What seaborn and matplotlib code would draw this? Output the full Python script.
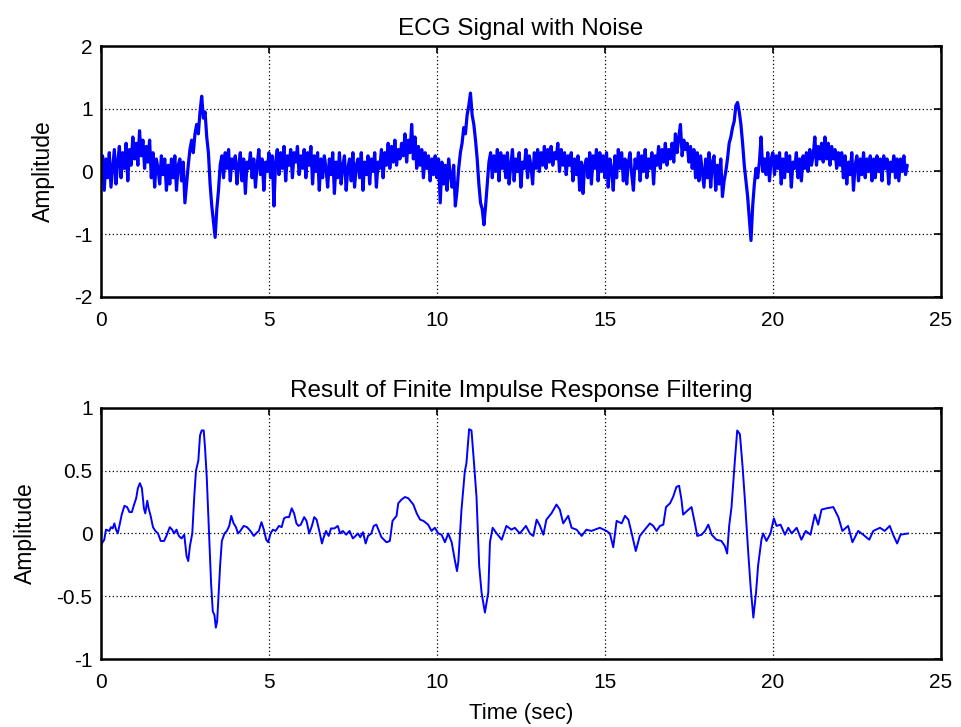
import numpy as np
import pandas as pd
import seaborn as sns
import matplotlib
matplotlib.use("Agg")
import matplotlib.pyplot as plt

# ---------------- data ----------------
noisy_t0 = 0.0
noisy_dt = 0.05
noisy_values = [
    -0.05, 0.25, -0.3, 0.2, -0.1, 0.3, -0.25, 0.05, 0.35, -0.2, 0.15, 0.4, -0.1, 0.3, 0.05, 0.45, -0.15, 0.35, 0.1, 0.55,
    0.2, 0.45, 0.1, 0.65, 0.25, 0.5, 0.05, 0.4, 0.15, 0.5, -0.1, 0.3, -0.25, 0.2, 0.05, -0.2, 0.25, -0.05, 0.2, -0.3,
    0.1, -0.2, 0.2, -0.1, 0.25, -0.3, 0.1, 0.2, -0.15, 0.15, -0.5, -0.2, 0.1, 0.35, 0.5, 0.3, 0.6, 0.75, 0.6, 0.95,
    1.2, 0.85, 0.95, 0.55, 0.3, -0.2, -0.55, -0.8, -1.05, -0.6, -0.3, 0.1, 0.25, -0.1, 0.3, 0.05, 0.35, -0.15, 0.2, 0.05,
    0.25, -0.2, 0.1, 0.3, -0.15, 0.2, -0.35, 0.15, 0.05, 0.3, -0.1, 0.2, -0.25, 0.1, 0.35, -0.05, 0.2, -0.3, 0.15, 0.0,
    0.3, -0.1, 0.25, -0.55, 0.15, 0.35, -0.05, 0.3, 0.05, 0.4, -0.15, 0.25, 0.1, 0.35, -0.1, 0.3, 0.15, 0.4, -0.05, 0.25,
    0.05, 0.35, -0.1, 0.3, 0.1, 0.4, -0.2, 0.25, 0.0, 0.3, -0.3, 0.2, -0.1, 0.25, 0.05, -0.25, 0.2, -0.05, 0.3, -0.35,
    0.15, -0.1, 0.3, -0.2, 0.1, 0.25, -0.3, 0.05, 0.2, -0.15, 0.3, -0.25, 0.1, 0.2, -0.1, 0.3, -0.3, 0.15, -0.05, 0.25,
    -0.2, 0.2, 0.0, 0.3, -0.25, 0.15, 0.05, 0.35, -0.1, 0.3, 0.1, 0.45, 0.05, 0.4, 0.15, 0.5, 0.1, 0.35, 0.2, 0.45,
    0.25, 0.6, 0.15, 0.5, 0.3, 0.75, 0.2, 0.55, 0.05, 0.4, 0.1, 0.35, -0.1, 0.3, 0.05, 0.25, -0.15, 0.2, -0.05, 0.25,
    -0.1, 0.2, -0.5, 0.15, -0.2, 0.1, -0.3, 0.2, -0.05, -0.25, 0.1, -0.55, -0.3, 0.05, 0.3, 0.45, 0.7, 0.6, 0.9, 1.05,
    1.25, 0.9, 0.75, 0.5, 0.2, -0.2, -0.5, -0.6, -0.85, -0.55, -0.2, 0.15, 0.3, -0.1, 0.25, 0.0, 0.35, -0.15, 0.3, 0.05,
    0.25, -0.1, 0.3, -0.2, 0.1, 0.35, -0.15, 0.2, 0.0, 0.3, -0.25, 0.15, 0.05, 0.35, -0.1, 0.25, 0.1, -0.2, 0.3, 0.05,
    0.35, 0.0, 0.3, 0.1, 0.4, 0.05, 0.35, 0.15, 0.4, 0.1, 0.3, 0.2, 0.45, 0.0, 0.35, 0.1, 0.3, -0.05, 0.25, 0.1,
    0.3, -0.15, 0.2, -0.05, 0.25, -0.3, 0.15, -0.35, 0.1, 0.2, -0.1, 0.3, -0.2, 0.25, 0.05, 0.35, -0.15, 0.3, 0.0, 0.25,
    -0.1, 0.3, -0.25, 0.2, 0.05, -0.3, 0.25, -0.1, 0.35, 0.05, 0.3, -0.15, 0.2, -0.2, 0.15, 0.3, -0.05, -0.3, 0.2, 0.05,
    0.3, -0.15, 0.25, 0.0, 0.35, -0.1, 0.2, 0.05, 0.3, -0.2, 0.25, 0.1, 0.4, 0.05, 0.35, 0.15, 0.45, 0.1, 0.35, 0.2,
    0.45, 0.15, 0.6, 0.3, 0.55, 0.75, 0.25, 0.5, 0.35, 0.45, 0.15, 0.4, 0.05, 0.35, -0.1, 0.3, -0.15, 0.25, 0.0, -0.25,
    0.2, -0.1, 0.3, -0.25, 0.15, 0.25, -0.3, 0.1, -0.2, 0.2, -0.4, -0.15, 0.0, 0.2, 0.45, 0.55, 0.7, 0.8, 1.05, 1.1,
    0.95, 0.75, 0.45, 0.1, -0.15, -0.4, -0.75, -1.1, -0.55, -0.2, 0.05, -0.1, 0.15, 0.55, 0.0, 0.2, -0.05, 0.3, -0.15, 0.2,
    0.3, -0.05, 0.25, 0.05, 0.3, -0.2, 0.2, -0.1, 0.3, 0.0, 0.25, -0.25, 0.15, 0.05, 0.3, -0.1, 0.2, -0.15, 0.25, 0.05,
    0.3, 0.0, 0.35, 0.1, 0.25, 0.55, 0.1, 0.4, 0.2, 0.45, 0.15, 0.55, 0.2, 0.45, 0.1, 0.4, 0.2, 0.35, 0.05, 0.3,
    0.1, 0.3, -0.1, 0.25, -0.2, 0.15, -0.05, 0.3, -0.3, 0.1, 0.25, -0.15, 0.2, -0.05, 0.3, -0.1, 0.2, 0.0, 0.25, -0.15,
    0.2, -0.1, 0.25, 0.0, 0.2, -0.15, 0.25, 0.05, 0.2, -0.2, 0.15, 0.0, 0.25, -0.1, 0.2, -0.15, 0.2, 0.0, 0.25, -0.05,
    0.1,
]
noisy_time = [round(noisy_t0 + i * noisy_dt, 2) for i in range(len(noisy_values))]

# filtered signal readings
filtered_time = [
    0.0, 0.05, 0.1, 0.15, 0.25, 0.3, 0.35, 0.4, 0.45, 0.5, 0.55, 0.62, 0.7, 0.78, 0.85, 0.92,
    1.0, 1.05, 1.1, 1.16, 1.22, 1.28, 1.32, 1.38, 1.42, 1.48, 1.55, 1.62, 1.7, 1.78, 1.88, 1.95,
    2.05, 2.12, 2.18, 2.25, 2.32, 2.4, 2.48, 2.55, 2.6, 2.65, 2.72, 2.78, 2.83, 2.9, 2.95,
    3.0, 3.06, 3.1, 3.15, 3.22, 3.28, 3.33, 3.38, 3.42, 3.46, 3.5, 3.55, 3.6, 3.68, 3.75, 3.82, 3.88, 3.95,
    4.02, 4.08, 4.15, 4.25, 4.35, 4.45, 4.55, 4.62, 4.7, 4.78, 4.85, 4.92, 4.98,
    5.05, 5.12, 5.2, 5.3, 5.38, 5.45, 5.52, 5.6, 5.68, 5.75, 5.82, 5.88, 5.95,
    6.05, 6.12, 6.2, 6.28, 6.35, 6.42, 6.5, 6.58, 6.62, 6.7, 6.78, 6.85, 6.95,
    7.05, 7.12, 7.2, 7.3, 7.4, 7.5, 7.58, 7.65, 7.72, 7.8, 7.88, 7.95,
    8.05, 8.12, 8.2, 8.35, 8.5, 8.6, 8.68, 8.8, 8.85, 8.95,
    9.05, 9.15, 9.3, 9.4, 9.5, 9.6, 9.74, 9.84, 9.94,
    10.04, 10.14, 10.24, 10.34, 10.44, 10.54, 10.6, 10.64, 10.69, 10.73, 10.83, 10.88, 10.96,
    11.03, 11.1, 11.18, 11.26, 11.33, 11.43, 11.53, 11.58, 11.66, 11.78, 11.93,
    12.07, 12.22, 12.32, 12.47, 12.65, 12.77, 12.87, 12.97,
    13.07, 13.17, 13.26, 13.41, 13.56, 13.66, 13.76, 13.91,
    14.01, 14.16, 14.31, 14.45, 14.6, 14.85,
    15.05, 15.15, 15.25, 15.35, 15.5, 15.6, 15.7, 15.8, 15.92,
    16.04, 16.19, 16.34, 16.44, 16.54, 16.64, 16.74, 16.82, 16.94,
    17.03, 17.13, 17.21, 17.28, 17.33, 17.45, 17.58, 17.68, 17.75, 17.88, 17.98,
    18.08, 18.18, 18.32, 18.47, 18.57, 18.64, 18.7, 18.77, 18.87, 18.94,
    19.02, 19.1, 19.17, 19.27, 19.34, 19.42, 19.5, 19.56, 19.66, 19.71, 19.81, 19.93,
    20.03, 20.11, 20.23, 20.36, 20.46, 20.56, 20.71, 20.85, 20.98,
    21.12, 21.25, 21.35, 21.45, 21.6, 21.8, 21.95,
    22.07, 22.24, 22.37, 22.54, 22.69, 22.87, 22.99,
    23.19, 23.33, 23.48, 23.58, 23.7, 23.8, 24.03,
]
filtered_values = [
    -0.1, -0.07, -0.05, 0.03, 0.02, 0.05, 0.04, 0.08, 0.03, 0.0, 0.06, 0.15, 0.22, 0.21, 0.17, 0.17,
    0.24, 0.28, 0.36, 0.40, 0.36, 0.2, 0.16, 0.26, 0.2, 0.14, 0.05, 0.02, 0.0, -0.06, -0.06, -0.02,
    0.05, 0.03, 0.0, 0.03, -0.02, -0.04, -0.01, -0.18, -0.22, -0.1, 0.0, 0.3, 0.5, 0.58, 0.78,
    0.82, 0.82, 0.68, 0.45, 0.0, -0.4, -0.62, -0.65, -0.75, -0.7, -0.5, -0.25, -0.06, 0.0, 0.02, 0.06, 0.14, 0.08,
    0.05, 0.0, 0.02, 0.06, 0.05, 0.02, -0.02, 0.0, 0.02, 0.09, 0.03, -0.05, -0.07,
    0.0, 0.03, 0.02, 0.06, 0.05, 0.12, 0.13, 0.13, 0.2, 0.16, 0.08, 0.06, 0.07,
    0.13, 0.1, 0.0, 0.06, 0.13, 0.11, 0.02, -0.08, -0.04, 0.02, -0.02, 0.04, 0.04,
    0.06, 0.0, 0.02, -0.01, 0.02, -0.04, -0.02, 0.0, -0.03, 0.01, -0.08, -0.02,
    0.0, 0.06, 0.07, -0.03, -0.07, -0.06, 0.1, 0.14, 0.24, 0.27,
    0.29, 0.28, 0.23, 0.16, 0.11, 0.1, 0.07, 0.02, 0.045,
    0.0, -0.01, -0.07, 0.0, -0.07, -0.22, -0.3, -0.22, 0.0, 0.18, 0.49, 0.56, 0.83,
    0.82, 0.58, 0.29, -0.26, -0.47, -0.63, -0.47, -0.07, 0.045, 0.0, -0.05,
    0.06, 0.03, 0.045, 0.0, 0.06, 0.0, -0.02, 0.11,
    0.06, -0.01, 0.11, 0.16, 0.23, 0.19, 0.08, 0.14,
    0.045, 0.03, -0.02, 0.03, 0.02, 0.045,
    0.02, 0.0, -0.11, 0.1, 0.08, 0.14, 0.11, 0.0, -0.14,
    -0.02, 0.03, 0.08, 0.06, 0.02, 0.06, 0.07, 0.21, 0.24,
    0.29, 0.37, 0.38, 0.27, 0.15, 0.18, 0.21, 0.08, -0.02, -0.01, 0.02,
    0.07, -0.01, -0.05, -0.06, -0.1, -0.16, 0.06, 0.21, 0.58, 0.82,
    0.79, 0.53, 0.26, -0.16, -0.43, -0.67, -0.47, -0.26, -0.05, 0.0, -0.06, 0.0,
    0.12, 0.06, 0.07, -0.01, 0.045, 0.0, 0.045, -0.05, 0.02,
    -0.01, 0.15, 0.07, 0.19, 0.2, 0.21, 0.13,
    0.02, 0.06, -0.07, 0.02, -0.01, -0.05, 0.02,
    0.045, 0.02, 0.06, -0.01, -0.08, -0.01, 0.0,
]

x_ticks = [0, 5, 10, 15, 20, 25]
top_y_ticks = [-2, -1, 0, 1, 2]
bottom_y_ticks = [-1, -0.5, 0, 0.5, 1]
top_title = "ECG Signal with Noise"
bottom_title = "Result of Finite Impulse Response Filtering"
y_label = "Amplitude"
x_label = "Time (sec)"

# ---------------- plotting ----------------
sns.set_style("white")
plt.rcParams['font.family'] = ['Liberation Sans', 'DejaVu Sans']

fig = plt.figure(figsize=(9.61, 7.27), dpi=100)
ax1 = fig.add_axes([0.105, 0.5915, 0.874, 0.3452])
ax2 = fig.add_axes([0.105, 0.0935, 0.874, 0.3455])

df_noisy = pd.DataFrame({"t": noisy_time, "v": noisy_values})
df_filt = pd.DataFrame({"t": filtered_time, "v": filtered_values})

sns.lineplot(data=df_noisy, x="t", y="v", ax=ax1, color="#0000ff", linewidth=2.3,
             estimator=None, sort=False)
sns.lineplot(data=df_filt, x="t", y="v", ax=ax2, color="#0000ff", linewidth=1.4,
             estimator=None, sort=False)

def style(ax, yticks, ylim, title):
    ax.set_xlim(0, 25)
    ax.set_ylim(*ylim)
    ax.set_xticks(x_ticks)
    ax.set_yticks(yticks)
    ax.set_xticklabels([f"{v:g}" for v in x_ticks])
    ax.set_yticklabels([f"{v:g}" for v in yticks])
    ax.grid(True, color="black", linestyle=(0, (1, 2)), linewidth=0.9)
    ax.set_axisbelow(True)
    for s in ax.spines.values():
        s.set_visible(True)
        s.set_color("black")
        s.set_linewidth(1.8)
    ax.tick_params(direction="in", length=5, width=1.2, top=True, right=True,
                   labelsize=15, colors="black")
    ax.tick_params(axis="x", pad=10)
    ax.tick_params(axis="y", pad=6)
    ax.set_title(title, fontsize=17.5, pad=8, color="black")
    ax.set_ylabel(y_label, fontsize=16.5, labelpad=14, color="black")
    ax.set_xlabel("")

style(ax1, top_y_ticks, (-2, 2), top_title)
style(ax2, bottom_y_ticks, (-1, 1), bottom_title)
ax2.set_xlabel(x_label, fontsize=16, labelpad=8, color="black")

fig.savefig("out.png", dpi=100, facecolor="white")
